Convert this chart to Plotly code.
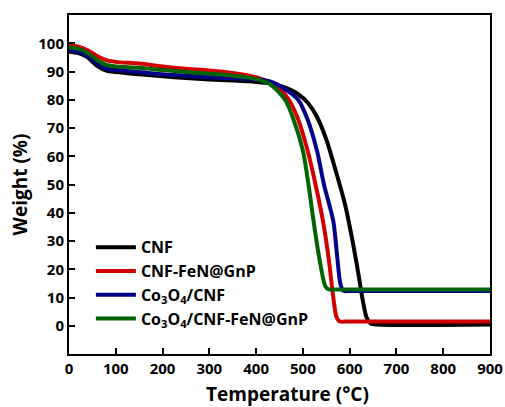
import plotly.graph_objects as go

# Temperature (°C) and weight (%)
cnf_t = [0, 20, 40, 60, 80, 100, 150, 200, 250, 300, 350, 400, 430, 450, 470, 490, 510, 530, 550, 570, 590, 605, 618, 628, 636, 645, 660, 900]
cnf_w = [97, 96.5, 95, 92, 90.3, 89.8, 89, 88.3, 87.7, 87.2, 86.8, 86.3, 85.8, 85, 83.8, 82, 79, 74, 66, 55, 43, 31, 19, 9, 3, 0.8, 0.4, 0.4]

fen_t = [0, 20, 40, 60, 80, 100, 150, 200, 250, 300, 350, 400, 430, 450, 470, 490, 510, 527, 543, 555, 565, 572, 578, 600, 900]
fen_w = [99.3, 98.8, 97.5, 95.5, 94, 93.4, 92.8, 91.8, 91, 90.4, 89.5, 88, 86, 84, 80, 73, 62, 50, 37, 24, 10, 3, 1.6, 1.5, 1.5]

co_t = [0, 20, 40, 60, 80, 100, 150, 200, 250, 300, 350, 400, 430, 460, 490, 510, 530, 545, 565, 573, 580, 586, 600, 900]
co_w = [97.4, 97, 95.6, 92.8, 91, 90.5, 89.8, 89, 88.5, 88, 87.6, 87.2, 86.5, 84, 80, 73, 62, 50, 37, 25, 15, 12.4, 12.3, 12.3]

cofen_t = [0, 20, 40, 60, 80, 100, 150, 200, 250, 300, 350, 400, 430, 462, 480, 500, 512, 522, 535, 548, 555, 570, 900]
cofen_w = [98.5, 98, 96.5, 94, 92.3, 91.8, 91.3, 90.5, 89.8, 89.2, 88.5, 87.3, 85.5, 80, 73, 62, 50, 38, 24, 14, 12.9, 12.8, 12.8]

names = ["CNF", "CNF-FeN@GnP", "Co<sub>3</sub>O<sub>4</sub>/CNF", "Co<sub>3</sub>O<sub>4</sub>/CNF-FeN@GnP"]
colors = ["#000000", "#d40000", "#00008b", "#006400"]
series = [(cnf_t, cnf_w), (fen_t, fen_w), (co_t, co_w), (cofen_t, cofen_w)]

x_ticks = [0, 100, 200, 300, 400, 500, 600, 700, 800, 900]
y_ticks = [0, 10, 20, 30, 40, 50, 60, 70, 80, 90, 100]

fig = go.Figure()
for i in range(4):
    t, w = series[i]
    fig.add_trace(go.Scatter(x=t, y=w, mode="lines", name=names[i],
                             line=dict(color=colors[i], width=4, shape="spline", smoothing=0.8)))

font_family = "'Open Sans', Lato, sans-serif"
fig.update_layout(
    width=505, height=407,
    margin=dict(l=69, r=15, t=15, b=53, autoexpand=False),
    paper_bgcolor="white", plot_bgcolor="white",
    font=dict(family=font_family, color="black"),
    showlegend=True,
    legend=dict(x=0.052, y=0.365, xanchor="left", yanchor="top",
                font=dict(size=16, family=font_family, weight="bold", color="black"),
                bgcolor="rgba(0,0,0,0)", tracegroupgap=0, itemwidth=40),
    xaxis=dict(range=[0, 900], tickvals=x_ticks, ticktext=[str(v) for v in x_ticks],
               ticks="inside", ticklen=6, tickwidth=1.5, tickcolor="black",
               showline=True, linecolor="black", linewidth=2, mirror=True,
               showgrid=False, zeroline=False, automargin=False,
               tickfont=dict(size=15, weight="bold")),
    yaxis=dict(range=[-10, 110], tickvals=y_ticks, ticktext=[str(v) for v in y_ticks],
               ticks="inside", ticklen=6, tickwidth=1.5, tickcolor="black",
               showline=True, linecolor="black", linewidth=2, mirror=True,
               showgrid=False, zeroline=False, automargin=False,
               tickfont=dict(size=15, weight="bold"),
               title=dict(text="Weight (%)", font=dict(size=19, weight="bold"), standoff=6)),
    annotations=[dict(text="Temperature (°C)", xref="paper", yref="paper",
                      x=0.52, y=-0.117, xanchor="center", yanchor="middle",
                      showarrow=False, font=dict(size=19, weight="bold", color="black"))],
)

fig.write_html("out.html", config={"displayModeBar": False},
               post_script="document.body.style.margin='0';document.body.style.overflow='hidden';")
